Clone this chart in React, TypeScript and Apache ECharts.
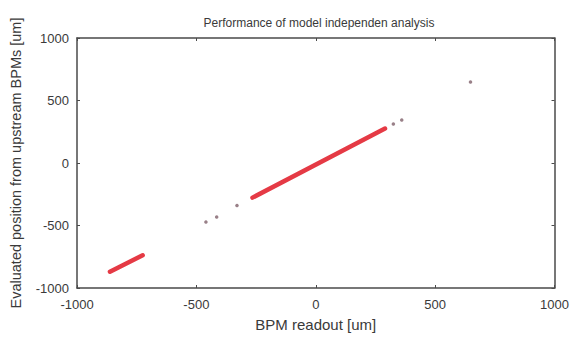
import React, { useEffect, useRef } from "react";
import * as echarts from "echarts";

const xTicks = [-1000, -500, 0, 500, 1000];
const yTicks = [-1000, -500, 0, 500, 1000];

// Dense runs of points, given by their first and last readout/evaluated pairs
const denseRunLow: [number, number][] = [
  [-862, -870],
  [-725, -738],
];
const denseRunMid: [number, number][] = [
  [-265, -277],
  [290, 276],
];

// Isolated points
const isolatedPoints: [number, number][] = [
  [-460, -472],
  [-415, -432],
  [-330, -340],
  [325, 312],
  [360, 344],
  [648, 648],
];

const FONT = "Liberation Sans, Arial, Helvetica, sans-serif";
const AXIS_COLOR = "#4a4a4a";
const TEXT_COLOR = "#3a3a3a";

export default function App() {
  const ref = useRef<HTMLDivElement>(null);

  useEffect(() => {
    if (!ref.current) return;
    const chart = echarts.init(ref.current, undefined, { renderer: "svg" });

    const axisBase = {
      type: "value" as const,
      min: xTicks[0],
      max: xTicks[xTicks.length - 1],
      interval: 500,
      splitLine: { show: false },
      axisLine: { show: true, onZero: false, lineStyle: { color: AXIS_COLOR, width: 1.5 } },
      axisTick: { show: true, inside: true, length: 3, lineStyle: { color: AXIS_COLOR, width: 1 } },
    };

    chart.setOption({
      animation: false,
      backgroundColor: "#ffffff",
      textStyle: { fontFamily: FONT },
      title: {
        text: "Performance of model independen analysis",
        left: 314,
        textAlign: "center",
        top: 12,
        textStyle: { fontSize: 12, fontWeight: "normal", color: TEXT_COLOR, fontFamily: FONT },
      },
      grid: { left: 71, right: 13, top: 38, bottom: 43, containLabel: false },
      xAxis: [
        {
          ...axisBase,
          position: "bottom",
          name: "BPM readout [um]",
          nameLocation: "middle",
          nameGap: 29,
          nameTextStyle: { fontSize: 15, color: TEXT_COLOR, fontFamily: FONT },
          axisLabel: {
            show: true,
            margin: 10,
            fontSize: 13,
            color: TEXT_COLOR,
            fontFamily: FONT,
            formatter: (v: number) => String(v),
          },
        },
        {
          ...axisBase,
          position: "top",
          axisLabel: { show: false },
        },
      ],
      yAxis: [
        {
          ...axisBase,
          min: yTicks[0],
          max: yTicks[yTicks.length - 1],
          position: "left",
          name: "Evaluated position from upstream BPMs [um]",
          nameLocation: "middle",
          nameGap: 54,
          nameTextStyle: { fontSize: 14.5, color: TEXT_COLOR, fontFamily: FONT },
          axisLabel: {
            show: true,
            margin: 8,
            fontSize: 13,
            color: TEXT_COLOR,
            fontFamily: FONT,
            formatter: (v: number) => String(v),
          },
        },
        {
          ...axisBase,
          min: yTicks[0],
          max: yTicks[yTicks.length - 1],
          position: "right",
          axisLabel: { show: false },
        },
      ],
      series: [
        {
          type: "line",
          data: denseRunLow,
          showSymbol: false,
          lineStyle: { color: "#e53a45", width: 4.5, cap: "round" },
          silent: true,
        },
        {
          type: "line",
          data: denseRunMid,
          showSymbol: false,
          lineStyle: { color: "#e53a45", width: 4.5, cap: "round" },
          silent: true,
        },
        {
          type: "scatter",
          data: isolatedPoints,
          symbol: "circle",
          symbolSize: 3.5,
          itemStyle: { color: "#80606a" },
          silent: true,
        },
      ],
    });

    return () => chart.dispose();
  }, []);

  return (
    <div
      ref={ref}
      style={{ position: "fixed", left: 0, top: 0, width: 572, height: 337 }}
    />
  );
}
